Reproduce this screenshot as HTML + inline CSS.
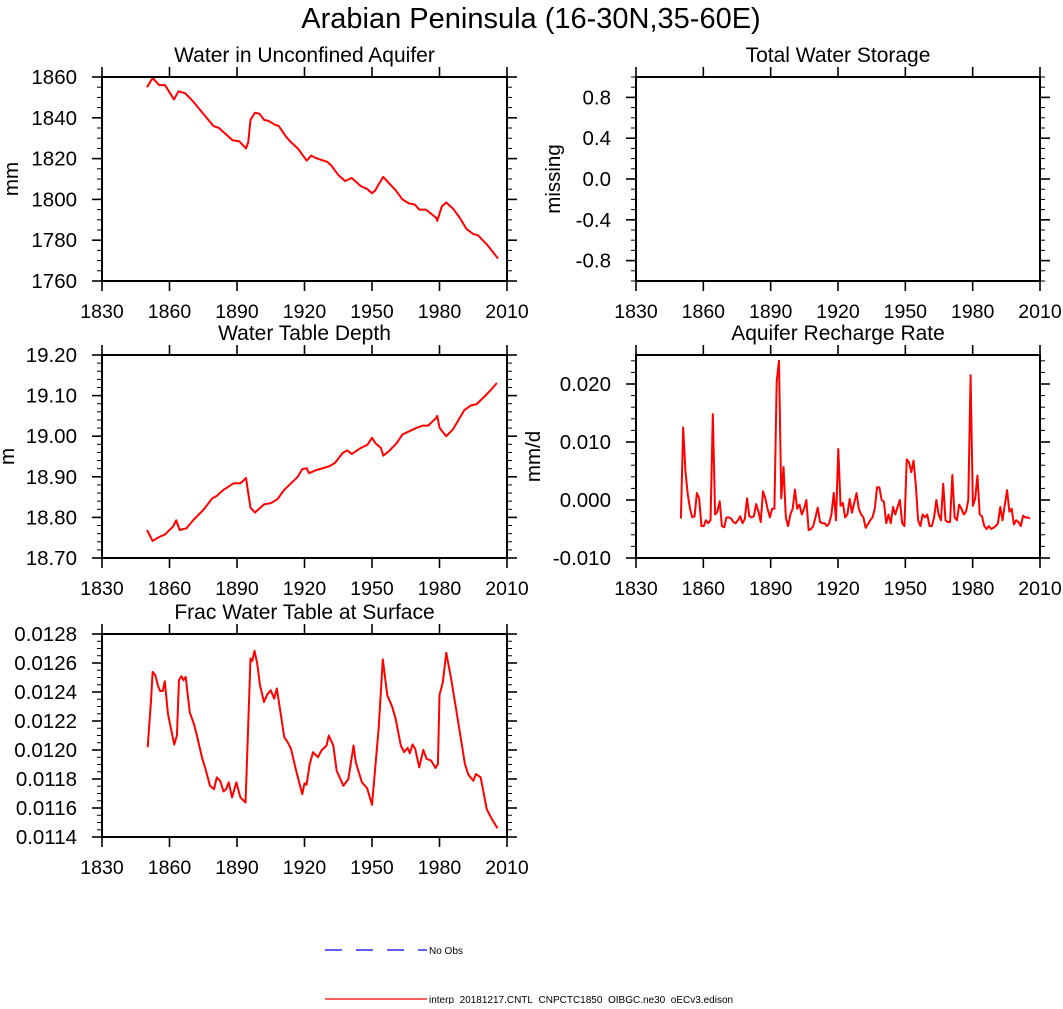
<!DOCTYPE html>
<html><head><meta charset="utf-8"><style>
body{margin:0;background:#fff;}
svg text{font-family:"Liberation Sans",Arial,sans-serif;fill:#000;}
</style></head><body>
<svg id="fig" width="1063" height="1004" viewBox="0 0 1063 1004" xmlns="http://www.w3.org/2000/svg">
<text x="531" y="28" font-size="29" text-anchor="middle">Arabian Peninsula (16-30N,35-60E)</text>
<g>
<line x1="325" y1="950" x2="427" y2="950" stroke="#0000ff" stroke-width="1.3" stroke-dasharray="17,14"/>
<text x="429" y="954" font-size="10">No Obs</text>
<line x1="325" y1="999" x2="427" y2="999" stroke="#ff0000" stroke-width="1.3"/>
<text x="429" y="1003" font-size="10">interp_20181217.CNTL_CNPCTC1850_OIBGC.ne30_oECv3.edison</text>
</g>
</svg>
<script>
// Panel 1: Water in Unconfined Aquifer
const aqYears=[1850,1852.5,1855.5,1858,1862,1864,1867,1870.5,1875,1879.5,1882,1885.5,1888,1891,1894,1895,1896,1898,1900,1902,1904,1907,1908.5,1912,1914,1917,1920,1921,1923,1924.5,1927,1930,1932,1935,1938,1941,1945,1948,1950,1951.5,1953,1955,1957.5,1960.5,1963.5,1966.5,1969,1971,1974,1978.5,1979,1981,1983,1986,1989,1992,1995,1997,2001,2006];
const aqValues=[1855,1859.5,1856,1856,1849,1853,1852,1848,1842,1836,1835,1831.5,1829,1828.5,1825,1828,1839,1842.5,1842,1839,1838.5,1836.5,1836,1830.5,1828,1825,1820.5,1819,1821.5,1820.5,1819.5,1818.5,1816.5,1812,1809,1810.5,1806.5,1805,1803,1804.5,1807.5,1811,1808,1804.5,1800,1798,1797.5,1795,1795,1791,1789.5,1796.5,1798.5,1795.5,1791,1785.5,1783,1782.5,1778,1771];
const aqTicks=["1760","1780","1800","1820","1840","1860"];
// Panel 3: Water Table Depth
const wtdYears=[1850,1852.5,1855.5,1858,1861.5,1863,1864.5,1867.5,1870.5,1875,1879,1881,1884,1888.5,1891.5,1894,1895,1896,1898,1900,1902,1905,1908,1911,1914,1917,1919,1921,1922,1925,1928,1931,1933.5,1937,1939,1941,1945,1948,1950,1951.5,1954,1955,1957.5,1961,1963.5,1966.5,1970,1972.5,1975,1978.5,1979,1980,1981.5,1983,1986,1991,1994,1996.5,1999.5,2002.5,2005.5];
const wtdValues=[18.769,18.742,18.752,18.758,18.777,18.793,18.769,18.773,18.793,18.818,18.847,18.853,18.868,18.884,18.884,18.897,18.86,18.824,18.812,18.822,18.832,18.835,18.845,18.868,18.884,18.9,18.919,18.921,18.909,18.916,18.921,18.926,18.934,18.959,18.965,18.956,18.971,18.979,18.996,18.983,18.971,18.952,18.963,18.983,19.004,19.012,19.021,19.026,19.026,19.045,19.05,19.021,19.01,19.0,19.017,19.064,19.076,19.079,19.095,19.112,19.131];
const wtdTicks=["18.70","18.80","18.90","19.00","19.10","19.20"];
// Panel 4: Aquifer Recharge Rate (annual, starting 1850)
const rchStartYear=1850, rchEndYear=2005.5;
const rchValues=[-0.0032,0.0125,0.005,0.001,-0.0015,-0.003,-0.0028,0.0012,0.0003,-0.0045,-0.0045,-0.0035,-0.004,-0.0035,0.0148,-0.0025,-0.002,-0.0002,-0.0045,-0.0047,-0.003,-0.003,-0.0032,-0.0038,-0.004,-0.0035,-0.0028,-0.004,-0.0033,0.0003,-0.0028,-0.003,-0.0028,-0.0007,-0.002,-0.0038,0.0015,0.0003,-0.0015,-0.003,-0.0015,-0.0015,0.0205,0.024,0.0003,0.0057,-0.003,-0.0045,-0.0025,-0.0015,0.0018,-0.0015,-0.0008,-0.0025,-0.0015,0.0,-0.0052,-0.005,-0.0045,-0.003,-0.0013,-0.0038,-0.004,-0.004,-0.0045,-0.004,-0.0025,0.0012,-0.0035,0.0088,-0.001,-0.0005,-0.003,-0.0025,0.0002,-0.0022,-0.0005,0.0012,-0.0015,-0.0025,-0.003,-0.0048,-0.0042,-0.0035,-0.003,-0.0015,0.0022,0.0022,0.0,-0.0003,-0.004,-0.0025,-0.004,-0.0012,-0.0025,-0.0012,0.0,-0.004,-0.0045,0.007,0.0065,0.0048,0.0068,0.0025,-0.0035,-0.0045,-0.0025,-0.003,-0.0025,-0.0045,-0.0045,-0.003,0.0,-0.0025,-0.0035,0.0028,-0.0035,-0.0038,-0.0038,0.0043,-0.003,-0.0035,-0.0008,-0.0015,-0.0025,-0.002,0.0,0.0215,-0.001,0.0002,0.0042,-0.0025,-0.0028,-0.0045,-0.005,-0.0045,-0.005,-0.0048,-0.0045,-0.004,-0.0012,-0.0035,-0.0008,0.0017,-0.002,-0.0015,-0.0042,-0.0035,-0.0038,-0.0045,-0.0027,-0.003,-0.003,-0.0032];
const rchTicks=["-0.010","0.000","0.010","0.020"];
// Panel 5: Frac Water Table at Surface
const fracYears=[1850.3,1851.8,1852.5,1853.7,1854.8,1855.8,1857,1857.9,1859.3,1860.8,1862.1,1863.3,1864.2,1865.3,1866.2,1867.2,1869,1870.8,1872,1874.6,1875.8,1878,1879.8,1881,1882.5,1884,1885.2,1886.3,1887.8,1889.7,1891.5,1893.8,1896,1896.8,1897.8,1899,1900.2,1902,1903.5,1905,1906.5,1907.7,1909.2,1911,1912.5,1914,1916.3,1919,1920,1920.9,1922.3,1923.8,1926,1927.5,1929.8,1930.8,1932.8,1934.3,1937.3,1939.5,1941.8,1942.8,1945.5,1947.8,1950,1951.2,1953,1954.8,1956.8,1959,1960.5,1962.8,1964.3,1965.8,1966.8,1968,1969.2,1971,1972.8,1974.3,1976.3,1978.2,1979.3,1980,1981.5,1983,1985.3,1988.3,1991.3,1992.8,1995,1996.2,1998.3,2001,2003.3,2005.8];
const fracValues=[0.012019,0.012342,0.012539,0.012516,0.012447,0.012407,0.012407,0.012474,0.01225,0.012135,0.012038,0.0121,0.012481,0.012509,0.012481,0.012504,0.012261,0.012181,0.012112,0.011938,0.01188,0.011753,0.01173,0.011811,0.011788,0.011714,0.01173,0.011777,0.011673,0.011777,0.011673,0.011638,0.012631,0.012615,0.012684,0.012596,0.012447,0.012331,0.012384,0.012412,0.012354,0.012424,0.012274,0.012088,0.012054,0.012008,0.011857,0.011696,0.01177,0.01176,0.011903,0.011985,0.01195,0.011996,0.012031,0.0121,0.012031,0.011857,0.011753,0.0118,0.012031,0.011915,0.011777,0.011738,0.011622,0.011834,0.012158,0.012625,0.012378,0.012297,0.012216,0.012031,0.011985,0.012015,0.011978,0.012038,0.012008,0.01188,0.012001,0.011938,0.011927,0.011876,0.011904,0.012378,0.01247,0.012671,0.012481,0.012193,0.011904,0.01183,0.011788,0.011834,0.011811,0.011592,0.011523,0.01146];
const fracTicks=["0.0114","0.0116","0.0118","0.0120","0.0122","0.0124","0.0126","0.0128"];
// Panel 2: Total Water Storage (no data)
const twsTicks=["-0.8","-0.4","0.0","0.4","0.8"];
const xTicks=["1830","1860","1890","1920","1950","1980","2010"];

const NS="http://www.w3.org/2000/svg";
const svg=document.getElementById('fig');
function mk(tag,attrs,parent){const e=document.createElementNS(NS,tag);for(const k in attrs)e.setAttribute(k,attrs[k]);(parent||svg).appendChild(e);return e;}

function panel(o){
  const g=mk('g',{});
  
  
  const L=o.x0,R=o.x1,T=o.y0,B=o.y1;
  const xs=v=>L+(v-1830)/(2010-1830)*(R-L);
  const ys=v=>B-(v-o.ymin)/(o.ymax-o.ymin)*(B-T);
  const t=mk('text',{x:(L+R)/2,y:T-15,'font-size':21,'text-anchor':'middle'},g);
  t.textContent=o.title;
  
  
  for(let v=o.ymin;v<=o.ymax+1e-12;v+=o.minor){
    const y=ys(v);
    mk('line',{x1:L-5,x2:L,y1:y,y2:y,stroke:'#000','stroke-width':1},g);
    mk('line',{x1:R,x2:R+5,y1:y,y2:y,stroke:'#000','stroke-width':1},g);
  }
  o.ticks.forEach(s=>{
    const y=ys(parseFloat(s));
    mk('line',{x1:L-10,x2:L,y1:y,y2:y,stroke:'#000','stroke-width':1.6},g);
    mk('line',{x1:R,x2:R+10,y1:y,y2:y,stroke:'#000','stroke-width':1.6},g);
    const lb=mk('text',{x:L-25,y:y+7,'font-size':20.5,'text-anchor':'end'},g);
    lb.textContent=s;
    
    
  });
  xTicks.forEach(s=>{
    const x=xs(parseFloat(s));
    mk('line',{x1:x,x2:x,y1:B,y2:B+10,stroke:'#000','stroke-width':1.6},g);
    mk('line',{x1:x,x2:x,y1:T-10,y2:T,stroke:'#000','stroke-width':1.6},g);
    const lb=mk('text',{x:x,y:B+37,'font-size':19.5,'text-anchor':'middle'},g);
    lb.textContent=s;
    
    
  });
  const yt=mk('text',{x:0,y:0,'font-size':20.5,'text-anchor':'middle',transform:`translate(${o.ylx},${(T+B)/2}) rotate(-90)`},g);
  yt.textContent=o.ylabel;
  
  
  if(o.years){
    const d=o.years.map((yr,i)=>(i?'L':'M')+xs(yr).toFixed(2)+','+ys(o.vals[i]).toFixed(2)).join(' ');
    const p=mk('path',{d:d,fill:'none',stroke:'#ff0000','stroke-width':2,'stroke-linejoin':'round'},g);
    
    
  }
  const fr=mk('rect',{x:L,y:T,width:R-L,height:B-T,fill:'none',stroke:'#000','stroke-width':2},g);
  
  
}

const rchYears=rchValues.map((v,i)=>rchStartYear+i*(rchEndYear-rchStartYear)/(rchValues.length-1));

panel({name:'panel-water-unconfined-aquifer',title:'Water in Unconfined Aquifer',x0:102,x1:507,y0:77,y1:281,ymin:1760,ymax:1860,minor:5,ticks:aqTicks,ylabel:'mm',ylx:18,years:aqYears,vals:aqValues});
panel({name:'panel-total-water-storage',title:'Total Water Storage',x0:636,x1:1040,y0:77,y1:281,ymin:-1,ymax:1,minor:0.1,ticks:twsTicks,ylabel:'missing',ylx:560});
panel({name:'panel-water-table-depth',title:'Water Table Depth',x0:102,x1:507,y0:355,y1:558,ymin:18.7,ymax:19.2,minor:0.02,ticks:wtdTicks,ylabel:'m',ylx:14,years:wtdYears,vals:wtdValues});
panel({name:'panel-aquifer-recharge-rate',title:'Aquifer Recharge Rate',x0:636,x1:1040,y0:355,y1:558,ymin:-0.01,ymax:0.025,minor:0.002,ticks:rchTicks,ylabel:'mm/d',ylx:540,years:rchYears,vals:rchValues});
panel({name:'panel-frac-water-table-surface',title:'Frac Water Table at Surface',x0:102,x1:507,y0:634,y1:837,ymin:0.0114,ymax:0.0128,minor:0.00005,ticks:fracTicks,ylabel:'unitless',ylx:-8,years:fracYears,vals:fracValues});
</script>
</body></html>
